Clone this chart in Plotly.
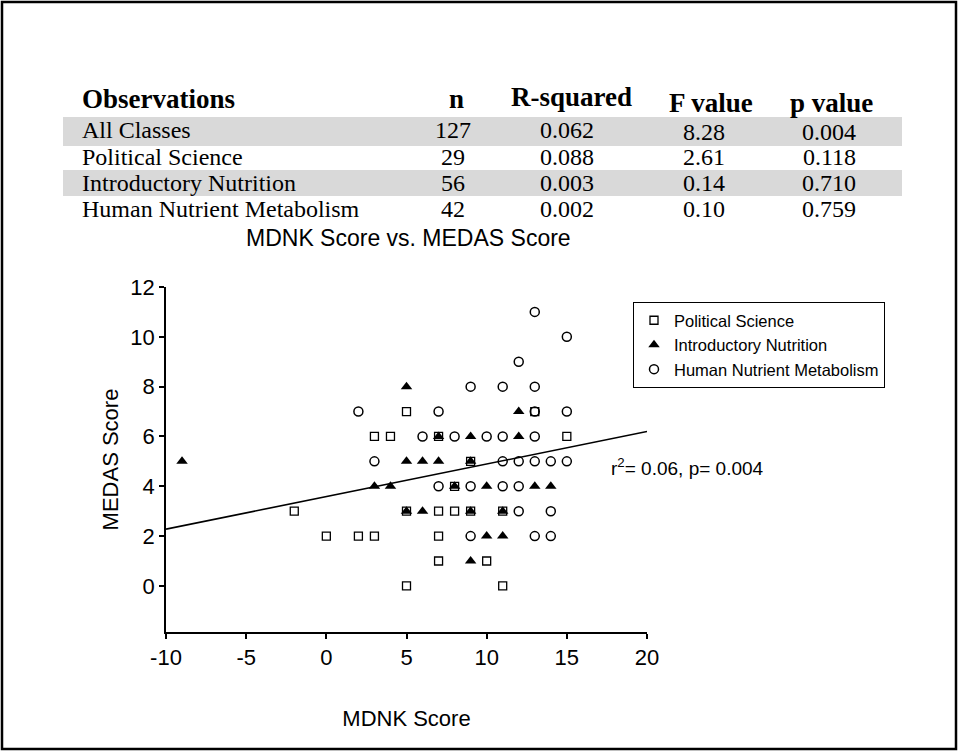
import plotly.graph_objects as go

# ---------------- data ----------------
ps_x = [-2, 0, 2, 3, 3, 4, 5, 5, 5, 7, 7, 7, 7, 8, 9, 9, 8, 11, 10, 11, 15, 13]
ps_y = [3, 2, 2, 2, 6, 6, 7, 0, 3, 6, 3, 2, 1, 3, 3, 5, 4, 3, 1, 0, 6, 7]

in_x = [-9, 5, 5, 6, 7, 3, 4, 5, 6, 7, 9, 12, 12, 9, 8, 10, 13, 14, 9, 11, 10, 11, 9]
in_y = [5, 8, 5, 5, 5, 4, 4, 3, 3, 6, 6, 6, 7, 5, 4, 4, 4, 4, 3, 3, 2, 2, 1]

hnm_x = [2, 7, 3, 6, 7, 13, 15, 12, 9, 11, 13, 13, 15, 8, 10, 11, 13, 11, 12, 13, 14, 15,
         9, 11, 12, 12, 14, 9, 13, 14]
hnm_y = [7, 7, 5, 6, 4, 11, 10, 9, 8, 8, 8, 7, 7, 6, 6, 6, 6, 5, 5, 5, 5, 5,
         4, 4, 4, 3, 3, 2, 2, 2]

fit_x = [-10, 20]
fit_y = [2.28, 6.2]

x_ticks = [-10, -5, 0, 5, 10, 15, 20]
x_ticktext = ["-10", "-5", "0", "5", "10", "15", "20"]
y_ticks = [0, 2, 4, 6, 8, 10, 12]

tbl_header = ["Observations", "n", "R-squared", "F value", "p value"]
tbl_groups = ["All Classes", "Political Science", "Introductory Nutrition", "Human Nutrient Metabolism"]
tbl_n = ["127", "29", "56", "42"]
tbl_r2 = ["0.062", "0.088", "0.003", "0.002"]
tbl_f = ["8.28", "2.61", "0.14", "0.10"]
tbl_p = ["0.004", "0.118", "0.710", "0.759"]

# ---------------- layout helpers (pixel -> paper) ----------------
W, H = 959, 752
L, R, T, B = 166, 647, 287, 632


def px(x):
    return (x - L) / (R - L)


def py(y):
    return (B - y) / (B - T)


fig = go.Figure()

fig.add_trace(go.Scatter(
    x=fit_x, y=fit_y, mode="lines", line=dict(color="black", width=1.6),
    showlegend=False, hoverinfo="skip"))

fig.add_trace(go.Scatter(
    x=ps_x, y=ps_y, mode="markers", name="Political Science",
    marker=dict(symbol="square-open", size=8, color="black", line=dict(width=1.3))))
fig.add_trace(go.Scatter(
    x=in_x, y=in_y, mode="markers", name="Introductory Nutrition",
    marker=dict(symbol="triangle-up", size=10, color="black")))
fig.add_trace(go.Scatter(
    x=hnm_x, y=hnm_y, mode="markers", name="Human Nutrient Metabolism",
    marker=dict(symbol="circle-open", size=9, color="black", line=dict(width=1.5))))

shapes = []
# outer frame
shapes.append(dict(type="rect", xref="paper", yref="paper",
                   x0=px(2), x1=px(956), y0=py(2), y1=py(749),
                   line=dict(color="black", width=2.5), fillcolor="rgba(0,0,0,0)", layer="below"))
# gray bands of the table
for (y0, y1) in [(117, 146), (170, 196)]:
    shapes.append(dict(type="rect", xref="paper", yref="paper",
                       x0=px(63), x1=px(902), y0=py(y0), y1=py(y1),
                       line=dict(width=0), fillcolor="#d9d9d9", layer="below"))

annotations = []
serif = "Liberation Serif, Times New Roman, serif"
sans = "Liberation Sans, Arial, sans-serif"

# header
hdr_pos = [(80, 99, "left"), (456, 99, "center"), (571, 97, "center"),
           (711, 103, "center"), (831, 103, "center")]
for text, (xx, yy, al) in zip(tbl_header, hdr_pos):
    annotations.append(dict(xref="paper", yref="paper", x=px(xx), y=py(yy), text="<b>%s</b>" % text,
                            showarrow=False, xanchor=al, yanchor="middle",
                            font=dict(family=serif, size=27, color="black")))

row_y = [130, 157, 183, 209]
for i in range(4):
    yy = row_y[i]
    off = 2 if i == 0 else 0
    cells = [(tbl_groups[i], 80, yy, "left"), (tbl_n[i], 453, yy, "center"),
             (tbl_r2[i], 567, yy, "center"), (tbl_f[i], 704, yy + off, "center"),
             (tbl_p[i], 829, yy + off, "center")]
    for text, xx, y2, al in cells:
        annotations.append(dict(xref="paper", yref="paper", x=px(xx), y=py(y2), text=text,
                                showarrow=False, xanchor=al, yanchor="middle",
                                font=dict(family=serif, size=24, color="black")))

# chart title
annotations.append(dict(xref="paper", yref="paper", x=px(408), y=py(238),
                        text="MDNK Score vs. MEDAS Score", showarrow=False,
                        xanchor="center", yanchor="middle",
                        font=dict(family=sans, size=23, color="black")))
# regression annotation
annotations.append(dict(xref="paper", yref="paper", x=px(609), y=py(467),
                        text="r<sup>2</sup>= 0.06, p= 0.004", showarrow=False,
                        xanchor="left", yanchor="middle",
                        font=dict(family=sans, size=19, color="black")))

fig.update_layout(
    width=W, height=H,
    margin=dict(l=L, r=W - R, t=T, b=H - B),
    paper_bgcolor="white", plot_bgcolor="white",
    showlegend=True,
    legend=dict(x=px(633), y=py(302), xanchor="left", yanchor="top",
                bordercolor="black", borderwidth=1, bgcolor="white",
                font=dict(family=sans, size=16.5, color="black"),
                tracegroupgap=0),
    shapes=shapes, annotations=annotations,
    xaxis=dict(range=[-10, 20], tickvals=x_ticks, ticktext=x_ticktext,
               showgrid=False, zeroline=False,
               showline=True, linecolor="black", linewidth=1.5,
               ticks="outside", ticklen=5, tickwidth=1.5, tickcolor="black",
               tickfont=dict(family=sans, size=22, color="black"),
               title=dict(text="MDNK Score", font=dict(family=sans, size=22, color="black"),
                          standoff=41)),
    yaxis=dict(range=[-1.85, 12], tickvals=y_ticks, showgrid=False, zeroline=False,
               showline=True, linecolor="black", linewidth=1.5,
               ticks="outside", ticklen=5, tickwidth=1.5, tickcolor="black",
               tickfont=dict(family=sans, size=22, color="black"),
               title=dict(text="MEDAS Score", font=dict(family=sans, size=22, color="black"),
                          standoff=6)),
)

fig.write_html("out.html", config={"displayModeBar": False},
               post_script="document.body.style.margin='0';")
